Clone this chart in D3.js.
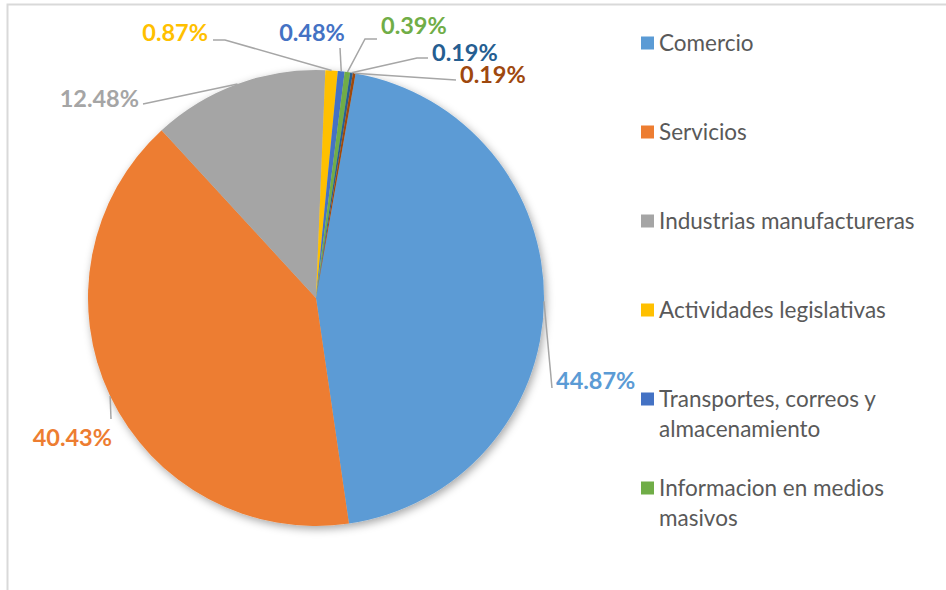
<!DOCTYPE html>
<html>
<head>
<meta charset="utf-8">
<script src="https://cdn.jsdelivr.net/npm/d3@7/dist/d3.min.js"></script>
<style>
    body { margin: 0; background: #fff; }
    svg { display: block; font-family: Lato, "Open Sans", sans-serif; }
</style>
</head>
<body>
<script>
//auto function
(function(){

    // chart data
    var categories = ["Comercio", "Servicios", "Industrias manufactureras", "Actividades legislativas",
        "Transportes, correos y almacenamiento", "Informacion en medios masivos",
        "Otras actividades 1", "Otras actividades 2"];
    var shares = [44.87, 40.43, 12.48, 0.87, 0.48, 0.39, 0.19, 0.19];
    var pctLabels = ["44.87%", "40.43%", "12.48%", "0.87%", "0.48%", "0.39%", "0.19%", "0.19%"];
    // legend lines (wrapped like the original), only the first six fit
    var legendLines = [["Comercio"], ["Servicios"], ["Industrias manufactureras"], ["Actividades legislativas"],
        ["Transportes, correos y", "almacenamiento"], ["Informacion en medios", "masivos"]];

    var colors = ["#5B9BD5", "#ED7D31", "#A5A5A5", "#FFC000", "#4472C4", "#70AD47", "#255E91", "#9E480E"];

    // label placement: bend point, end of leader, text anchor point
    var labelLayout = [
        {bend: null, end: [552, 388], tx: 556, ty: 389, anchor: "start"},
        {bend: null, end: [111, 419], tx: 112, ty: 446, anchor: "end"},
        {bend: null, end: [143, 104], tx: 139, ty: 107, anchor: "end"},
        {bend: [225, 40], end: [213, 40], tx: 208, ty: 41, anchor: "end"},
        {bend: null, end: [340, 48], tx: 312, ty: 41, anchor: "middle"},
        {bend: [365, 39], end: [377, 39], tx: 381, ty: 34, anchor: "start"},
        {bend: [417, 58], end: [428, 58], tx: 432, ty: 61, anchor: "start"},
        {bend: null, end: [456, 80], tx: 460, ty: 83, anchor: "start"}
    ];

    var width = 946, height = 590;
    var cx = 316, cy = 298, radius = 228;
    var rot = 10 * Math.PI / 180;

    window.onload = drawChart();

    function drawChart(){
        var svg = d3.select("body")
            .append("svg")
            .attr("width", width)
            .attr("height", height);

        // shadow under the pie
        var defs = svg.append("defs");
        var filter = defs.append("filter")
            .attr("id", "shadow")
            .attr("x", "-20%").attr("y", "-20%")
            .attr("width", "140%").attr("height", "140%");
        filter.append("feDropShadow")
            .attr("dx", 2).attr("dy", 3)
            .attr("stdDeviation", 4)
            .attr("flood-color", "#000")
            .attr("flood-opacity", 0.35);

        // chart area border (cut by the window)
        svg.append("rect")
            .attr("x", 7.5).attr("y", 4.5)
            .attr("width", 1000).attr("height", 700)
            .attr("fill", "none")
            .attr("stroke", "#D9D9D9")
            .attr("stroke-width", 2);

        // the title sits above the window, only a descender shows
        svg.append("text")
            .attr("x", 780).attr("y", -4)
            .attr("text-anchor", "middle")
            .style("font-size", "22px")
            .style("font-weight", "bold")
            .attr("fill", "#000")
            .text("y");

        var pie = d3.pie()
            .sort(null)
            .startAngle(rot)
            .endAngle(rot + 2 * Math.PI)
            .value(function(d){ return d; });

        var arcs = pie(shares);

        var arc = d3.arc()
            .innerRadius(0)
            .outerRadius(radius);

        var edgeArc = d3.arc()
            .innerRadius(radius)
            .outerRadius(radius);

        var g = svg.append("g")
            .attr("transform", "translate(" + cx + "," + cy + ")");

        g.append("g")
            .attr("filter", "url(#shadow)")
            .selectAll("path")
            .data(arcs)
            .enter()
            .append("path")
            .attr("d", arc)
            .attr("fill", function(d, i){ return colors[i]; });

        // leader lines from the slice edge to the label
        svg.selectAll(".leader")
            .data(arcs)
            .enter()
            .append("polyline")
            .attr("class", "leader")
            .attr("fill", "none")
            .attr("stroke", "#A6A6A6")
            .attr("stroke-width", 1.5)
            .attr("points", function(d, i){
                var c = edgeArc.centroid(d);
                var pts = [[cx + c[0], cy + c[1]]];
                var lay = labelLayout[i];
                if (lay.bend) pts.push(lay.bend);
                pts.push(lay.end);
                return pts.map(function(p){ return p.join(","); }).join(" ");
            });

        svg.selectAll(".pct")
            .data(arcs)
            .enter()
            .append("text")
            .attr("class", "pct")
            .attr("x", function(d, i){ return labelLayout[i].tx; })
            .attr("y", function(d, i){ return labelLayout[i].ty; })
            .attr("text-anchor", function(d, i){ return labelLayout[i].anchor; })
            .attr("fill", function(d, i){ return colors[i]; })
            .style("font-size", "23.5px")
            .style("font-weight", "bold")
            .text(function(d, i){ return pctLabels[i]; });

        // legend
        var legend = svg.selectAll(".legend")
            .data(legendLines)
            .enter()
            .append("g")
            .attr("class", "legend")
            .attr("transform", function(d, i){
                return "translate(641," + (43 + i * 89) + ")";
            });

        legend.append("rect")
            .attr("x", 0).attr("y", -6.5)
            .attr("width", 13).attr("height", 13)
            .attr("fill", function(d, i){ return colors[i]; });

        legend.append("text")
            .attr("x", 18)
            .attr("y", 7.5)
            .attr("fill", "#595959")
            .style("font-size", "22.5px")
            .selectAll("tspan")
            .data(function(d){ return d; })
            .enter()
            .append("tspan")
            .attr("x", 18)
            .attr("dy", function(d, j){ return j === 0 ? 0 : 30; })
            .text(function(d){ return d; });
    };
})();
</script>
</body>
</html>
